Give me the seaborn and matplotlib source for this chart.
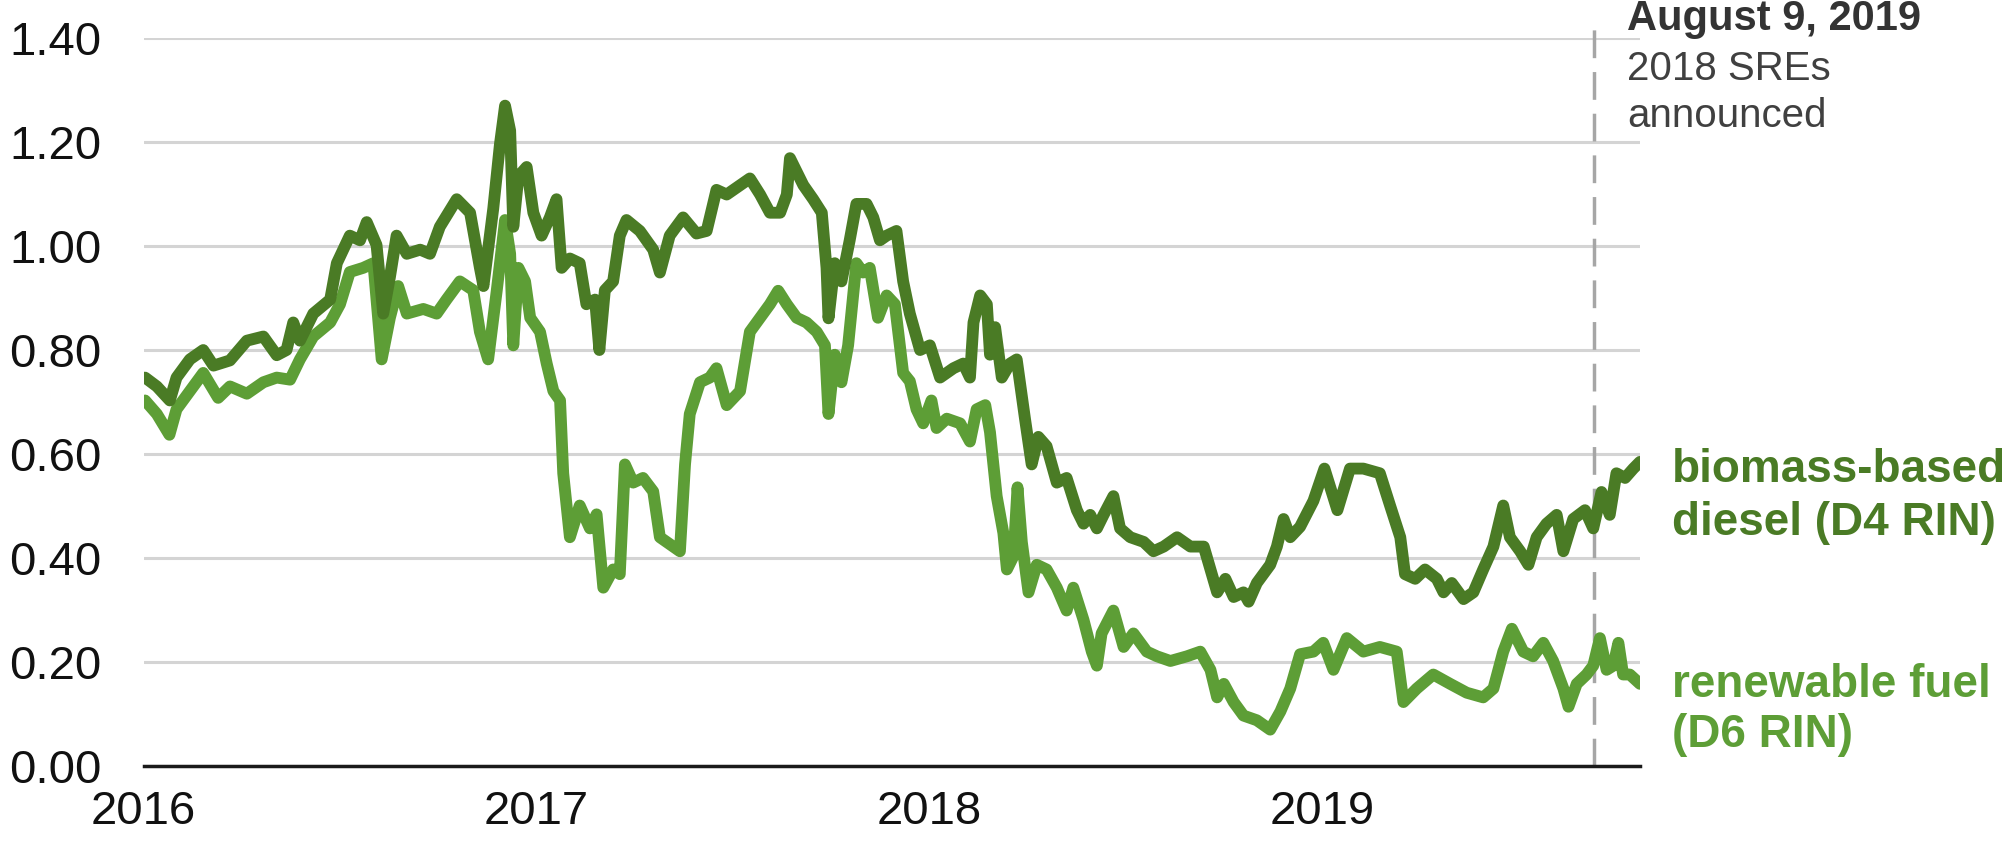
import numpy as np
import pandas as pd
import matplotlib
matplotlib.use("Agg")
import matplotlib.pyplot as plt
import seaborn as sns

# position on the chart's time axis, in decimal years
d4_year = [
    2016.004, 2016.034, 2016.067, 2016.084, 2016.118, 2016.152, 2016.178, 2016.220, 2016.263, 2016.305,
    2016.339, 2016.364, 2016.381, 2016.398, 2016.432, 2016.475, 2016.492, 2016.525, 2016.551, 2016.568,
    2016.593, 2016.610, 2016.627, 2016.644, 2016.670, 2016.704, 2016.729, 2016.754, 2016.797, 2016.831,
    2016.856, 2016.865, 2016.890, 2016.907, 2016.920, 2016.933, 2016.941, 2016.954, 2016.975,
    2016.992, 2017.013, 2017.034, 2017.051, 2017.064, 2017.085, 2017.110, 2017.127, 2017.149, 2017.160,
    2017.174, 2017.195, 2017.212, 2017.229, 2017.263, 2017.297, 2017.314, 2017.339, 2017.373, 2017.407,
    2017.433, 2017.458, 2017.484, 2017.518, 2017.543, 2017.569, 2017.594, 2017.620, 2017.637, 2017.645,
    2017.662, 2017.679, 2017.704, 2017.726, 2017.738, 2017.743, 2017.759, 2017.776, 2017.797, 2017.814,
    2017.840, 2017.857, 2017.874, 2017.891, 2017.916, 2017.933,
    2017.950, 2017.976, 2018.001, 2018.027, 2018.061, 2018.086, 2018.103, 2018.112, 2018.129, 2018.146,
    2018.154, 2018.167, 2018.184, 2018.205, 2018.222, 2018.243, 2018.260, 2018.277, 2018.298, 2018.324,
    2018.349, 2018.375, 2018.392, 2018.409, 2018.426, 2018.443, 2018.468, 2018.485, 2018.511, 2018.545,
    2018.570, 2018.596, 2018.630, 2018.664, 2018.698, 2018.715, 2018.732, 2018.753, 2018.774, 2018.799,
    2018.812, 2018.833, 2018.867, 2018.884, 2018.901, 2018.918,
    2018.943, 2018.977, 2019.005, 2019.038, 2019.070, 2019.104, 2019.146, 2019.172, 2019.198, 2019.210,
    2019.236, 2019.261, 2019.291, 2019.308, 2019.329, 2019.359, 2019.384, 2019.409, 2019.435, 2019.460,
    2019.477, 2019.503, 2019.524, 2019.545, 2019.570, 2019.596, 2019.613, 2019.638, 2019.668, 2019.689,
    2019.710, 2019.731, 2019.748, 2019.770, 2019.791, 2019.808,
]
d4_price = [
    0.747, 0.730, 0.703, 0.747, 0.782, 0.800, 0.770, 0.780, 0.818, 0.826,
    0.790, 0.800, 0.853, 0.818, 0.870, 0.897, 0.967, 1.020, 1.011, 1.046,
    1.002, 0.870, 0.940, 1.020, 0.985, 0.993, 0.985, 1.037, 1.090, 1.064,
    0.958, 0.923, 1.072, 1.196, 1.270, 1.222, 1.037, 1.134, 1.152,
    1.064, 1.020, 1.055, 1.090, 0.958, 0.976, 0.967, 0.888, 0.897, 0.800,
    0.915, 0.932, 1.020, 1.050, 1.029, 0.993, 0.949, 1.020, 1.055, 1.024,
    1.029, 1.108, 1.099, 1.117, 1.130, 1.099, 1.064, 1.064, 1.099, 1.169,
    1.143, 1.117, 1.090, 1.064, 0.958, 0.861, 0.967, 0.932, 1.011, 1.081,
    1.081, 1.055, 1.011, 1.020, 1.029, 0.932,
    0.870, 0.800, 0.809, 0.747, 0.765, 0.774, 0.747, 0.853, 0.905, 0.888,
    0.791, 0.844, 0.747, 0.774, 0.782, 0.668, 0.580, 0.633, 0.615, 0.545,
    0.554, 0.492, 0.466, 0.483, 0.457, 0.483, 0.519, 0.457, 0.440, 0.431,
    0.413, 0.422, 0.440, 0.422, 0.422, 0.378, 0.334, 0.360, 0.325, 0.334,
    0.316, 0.352, 0.387, 0.422, 0.475, 0.440,
    0.460, 0.510, 0.572, 0.492, 0.572, 0.572, 0.563, 0.501, 0.440, 0.369,
    0.360, 0.378, 0.360, 0.334, 0.352, 0.321, 0.334, 0.378, 0.422, 0.501,
    0.440, 0.413, 0.387, 0.440, 0.466, 0.483, 0.413, 0.475, 0.492, 0.457,
    0.527, 0.483, 0.563, 0.554, 0.572, 0.585,
]

d6_year = [
    2016.004, 2016.034, 2016.066, 2016.084, 2016.118, 2016.152, 2016.190, 2016.220, 2016.263, 2016.305,
    2016.339, 2016.373, 2016.398, 2016.432, 2016.475, 2016.500, 2016.525, 2016.559, 2016.585, 2016.606,
    2016.627, 2016.648, 2016.670, 2016.712, 2016.746, 2016.771, 2016.805, 2016.839, 2016.856, 2016.877,
    2016.899, 2016.920, 2016.933, 2016.941, 2016.954, 2016.971,
    2016.984, 2017.009, 2017.026, 2017.043, 2017.060, 2017.068, 2017.085, 2017.110, 2017.136, 2017.153,
    2017.170, 2017.195, 2017.212, 2017.225, 2017.246, 2017.271, 2017.297, 2017.314, 2017.348, 2017.365,
    2017.378, 2017.390, 2017.416, 2017.441, 2017.458, 2017.484, 2017.518, 2017.543, 2017.569, 2017.594,
    2017.615, 2017.637, 2017.662, 2017.687, 2017.713, 2017.734, 2017.743, 2017.759, 2017.776, 2017.793,
    2017.814, 2017.831, 2017.848, 2017.869, 2017.891, 2017.912, 2017.933,
    2017.950, 2017.967, 2017.984, 2018.005, 2018.018, 2018.044, 2018.078, 2018.103, 2018.120, 2018.142,
    2018.154, 2018.171, 2018.188, 2018.197, 2018.214, 2018.224, 2018.235, 2018.252, 2018.273, 2018.298,
    2018.324, 2018.349, 2018.366, 2018.392, 2018.413, 2018.426, 2018.438, 2018.468, 2018.494, 2018.519,
    2018.553, 2018.579, 2018.613, 2018.655, 2018.689, 2018.715, 2018.732, 2018.749, 2018.774, 2018.799,
    2018.833, 2018.867, 2018.893, 2018.918,
    2018.943, 2018.977, 2019.002, 2019.028, 2019.062, 2019.104, 2019.146, 2019.189, 2019.206, 2019.240,
    2019.282, 2019.325, 2019.367, 2019.409, 2019.435, 2019.460, 2019.482, 2019.511, 2019.536, 2019.562,
    2019.587, 2019.613, 2019.626, 2019.647, 2019.672, 2019.689, 2019.706, 2019.723, 2019.740, 2019.753,
    2019.765, 2019.782, 2019.808,
]
d6_price = [
    0.703, 0.677, 0.637, 0.686, 0.721, 0.756, 0.708, 0.730, 0.716, 0.738,
    0.747, 0.743, 0.782, 0.826, 0.853, 0.888, 0.950, 0.958, 0.967, 0.782,
    0.862, 0.923, 0.870, 0.879, 0.870, 0.897, 0.932, 0.915, 0.835, 0.782,
    0.915, 1.050, 0.985, 0.809, 0.958, 0.932,
    0.862, 0.835, 0.774, 0.721, 0.703, 0.563, 0.440, 0.501, 0.457, 0.484,
    0.343, 0.378, 0.369, 0.580, 0.545, 0.554, 0.528, 0.440, 0.422, 0.413,
    0.580, 0.677, 0.738, 0.747, 0.765, 0.694, 0.721, 0.835, 0.862, 0.888,
    0.914, 0.888, 0.862, 0.853, 0.835, 0.809, 0.677, 0.791, 0.738, 0.809,
    0.967, 0.949, 0.958, 0.862, 0.905, 0.888, 0.756,
    0.740, 0.686, 0.659, 0.703, 0.650, 0.668, 0.659, 0.624, 0.686, 0.694,
    0.642, 0.519, 0.448, 0.378, 0.404, 0.536, 0.431, 0.334, 0.387, 0.378,
    0.343, 0.299, 0.343, 0.281, 0.220, 0.193, 0.255, 0.299, 0.229, 0.255,
    0.220, 0.211, 0.202, 0.211, 0.220, 0.185, 0.132, 0.158, 0.123, 0.097,
    0.088, 0.070, 0.105, 0.149,
    0.215, 0.220, 0.237, 0.185, 0.246, 0.220, 0.229, 0.220, 0.123, 0.149,
    0.176, 0.158, 0.141, 0.132, 0.149, 0.220, 0.264, 0.220, 0.211, 0.237,
    0.202, 0.149, 0.114, 0.158, 0.176, 0.193, 0.246, 0.185, 0.193, 0.237,
    0.176, 0.176, 0.158,
]

event_year = 2019.69
year_ticks = [2016, 2017, 2018, 2019]
y_ticks = [0.0, 0.2, 0.4, 0.6, 0.8, 1.0, 1.2, 1.4]

D4_COLOR = "#4a7b25"
D6_COLOR = "#5d9e36"


def to_dates(years):
    years = np.asarray(years, dtype=float)
    return pd.Timestamp("2016-01-01") + pd.to_timedelta((years - 2016) * 365.25, unit="D")


sns.set_theme(style="white")
plt.rcParams["font.family"] = ["Liberation Sans", "DejaVu Sans"]

fig = plt.figure(figsize=(20.14, 8.43), dpi=100)
ax = fig.add_axes([143.5 / 2014, 0.0913, (1640 - 143.5) / 2014, 0.8636])

ax.set_ylim(0, 1.4)
ax.set_yticks(y_ticks)
ax.set_yticklabels([f"{v:.2f}" for v in y_ticks])
ax.grid(axis="y", color="#d4d4d4", lw=2.2)
ax.set_axisbelow(True)

df4 = pd.DataFrame({"date": to_dates(d4_year), "price": d4_price})
df6 = pd.DataFrame({"date": to_dates(d6_year), "price": d6_price})
line_kw = dict(lw=8.5, solid_joinstyle="round", solid_capstyle="round", ax=ax)
sns.lineplot(data=df6, x="date", y="price", color=D6_COLOR, **line_kw)
sns.lineplot(data=df4, x="date", y="price", color=D4_COLOR, **line_kw)

event = to_dates([event_year])[0]
ax.axvline(event, ymin=0, ymax=1.012, color="#a6a6a6", lw=2.5,
           dashes=(8, 4), clip_on=False, zorder=1)

ax.set_xlim(to_dates([2016])[0], df4["date"].iloc[-1])
ax.set_xticks(to_dates(year_ticks))
ax.set_xticklabels([str(y) for y in year_ticks])

for s in ["top", "right", "left"]:
    ax.spines[s].set_visible(False)
ax.spines["bottom"].set_color("#1a1a1a")
ax.spines["bottom"].set_linewidth(2.5)
ax.spines["bottom"].set_zorder(3)
ax.tick_params(axis="x", direction="out", length=9, width=2, color="#1a1a1a",
               labelsize=34, pad=8, labelcolor="#111111")
ax.tick_params(axis="y", length=0, labelsize=34, pad=30, labelcolor="#111111")
ax.set_xlabel("")
ax.set_ylabel("")

fig.text(1627 / 2014, 1 - 30 / 843, "August 9, 2019", fontsize=30,
         fontweight="bold", color="#333333", va="baseline")
fig.text(1627 / 2014, 1 - 80 / 843, "2018 SREs", fontsize=29,
         color="#404040", va="baseline")
fig.text(1627 / 2014, 1 - 127 / 843, "announced", fontsize=29,
         color="#404040", va="baseline")

fig.text(1672 / 2014, 1 - 482 / 843, "biomass-based", fontsize=33,
         fontweight="bold", color=D4_COLOR, va="baseline")
fig.text(1672 / 2014, 1 - 535 / 843, "diesel (D4 RIN)", fontsize=33,
         fontweight="bold", color=D4_COLOR, va="baseline")
fig.text(1672 / 2014, 1 - 697 / 843, "renewable fuel", fontsize=33,
         fontweight="bold", color=D6_COLOR, va="baseline")
fig.text(1672 / 2014, 1 - 747 / 843, "(D6 RIN)", fontsize=33,
         fontweight="bold", color=D6_COLOR, va="baseline")

fig.savefig("out.png", dpi=100)
